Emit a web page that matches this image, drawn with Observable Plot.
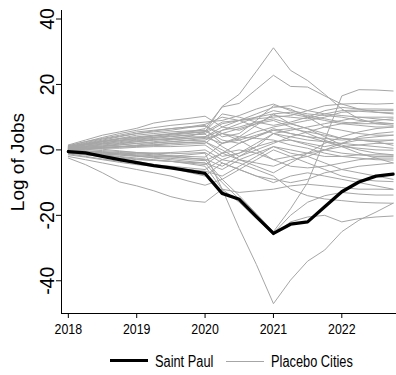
<!DOCTYPE html>
<html>
<head>
<meta charset="utf-8">
<script src="https://cdn.jsdelivr.net/npm/d3@7"></script>
<script src="https://cdn.jsdelivr.net/npm/@observablehq/plot@0.6"></script>
<style>
  body { margin: 0; background: #fff; }
  #chart { position: relative; width: 396px; height: 375px; overflow: hidden; background: #fff; }
  #chart svg [aria-label="x-axis tick label"] {
    font-family: "Liberation Sans", Arial, sans-serif;
    font-size: 15.5px;
  }
  .legend { position: absolute; left: 0; top: 340px; width: 396px; height: 35px;
    font-family: "Liberation Sans", Arial, sans-serif; font-size: 16px; color: #000; }
  .legend .sw { position: absolute; top: 21px; width: 38px; }
  .legend .lab { position: absolute; top: 12px; line-height: 20px; white-space: nowrap;
    transform: scaleX(0.8); transform-origin: left center; }
</style>
</head>
<body>
<div id="chart"></div>
<script>
// ---- data ----
const quarters = [2018, 2018.25, 2018.5, 2018.75, 2019, 2019.25, 2019.5, 2019.75,
                  2020, 2020.25, 2020.5, 2020.75, 2021, 2021.25, 2021.5, 2021.75,
                  2022, 2022.25, 2022.5, 2022.75];
const xTicks = [2018, 2019, 2020, 2021, 2022];
const yTicks = [-40, -20, 0, 20, 40];
const yLabel = "Log of Jobs";
const legendLabels = ["Saint Paul", "Placebo Cities"];

const saintPaul = [-0.5, -0.9, -2.0, -3.0, -3.9, -4.8, -5.5, -6.3, -7.2, -13.3, -15.1, -20.4,
                   -25.5, -22.7, -22.0, -17.4, -12.8, -9.8, -8.0, -7.4];

const placebo = [
  [0.5, 1.2, 1.8, 2.2, 2.8, 3.2, 3.5, 4.0, 5.5, 13.3, 17.0, 24.0, 31.2, 24.3, 21.2, 17.0, 12.5, 9.5, 8.0, 7.5],
  [1.0, 1.8, 2.5, 3.0, 3.6, 4.2, 4.8, 5.5, 6.5, 13.1, 14.2, 18.5, 22.8, 19.4, 19.2, 16.5, 14.0, 12.5, 11.5, 11.0],
  [0.2, 0.5, 0.2, -0.3, -0.8, -1.2, -1.8, -2.5, -3.0, -9.0, -14.0, -19.5, -25.0, -18.0, -10.0, 3.0, 16.5, 18.4, 18.3, 18.0],
  [0.0, -0.5, -1.0, -1.2, -1.5, -1.8, -2.0, -1.5, -1.0, -12.0, -24.0, -35.0, -47.0, -39.8, -34.0, -30.6, -25.0, -21.5, -19.0, -16.3],
  [1.5, 3.0, 4.5, 5.5, 6.6, 8.2, 9.0, 9.6, 10.3, 7.0, 6.0, 8.0, 10.5, 10.0, 9.5, 11.0, 12.0, 12.2, 12.0, 12.0],
  [1.2, 2.5, 3.8, 5.0, 6.0, 6.8, 7.5, 8.0, 8.5, 9.0, 10.5, 12.5, 14.0, 12.0, 11.0, 10.5, 10.0, 9.0, 8.5, 8.0],
  [0.8, 2.0, 3.0, 4.0, 5.0, 5.5, 6.0, 6.8, 7.5, 4.0, 5.0, 9.0, 13.5, 12.5, 10.0, 7.0, 6.0, 5.0, 4.5, 4.5],
  [1.0, 1.5, 2.5, 3.5, 4.5, 5.0, 5.5, 5.8, 6.0, 2.0, 4.0, 7.5, 11.0, 8.0, 6.5, 5.0, 3.5, 3.0, 2.5, 3.0],
  [0.5, 1.0, 1.8, 2.5, 3.0, 3.5, 4.0, 4.5, 5.0, 8.0, 9.0, 9.5, 10.0, 10.5, 12.0, 13.5, 14.0, 14.2, 14.0, 14.2],
  [0.3, 0.8, 1.2, 1.8, 2.5, 3.0, 3.5, 4.0, 4.0, 6.0, 7.0, 8.5, 9.5, 8.0, 6.5, 4.0, 1.5, 0.0, -1.0, -1.5],
  [0.6, 1.5, 2.0, 2.8, 3.5, 3.8, 4.2, 4.5, 4.8, 1.0, -2.0, 0.0, 2.0, 4.0, 5.5, 7.0, 8.0, 8.5, 9.0, 9.5],
  [-0.5, 0.0, 0.5, 1.0, 1.5, 2.0, 2.5, 3.0, 3.5, 5.0, 4.0, 3.5, 3.0, 1.5, 0.5, -1.0, -2.0, -2.5, -3.0, -3.1],
  [0.8, 1.8, 2.8, 3.5, 4.0, 4.5, 5.0, 5.5, 6.0, 3.0, 2.0, 4.0, 6.0, 5.0, 4.0, 2.5, 1.0, 0.5, 0.0, -0.1],
  [-0.2, 0.3, 0.8, 1.0, 1.2, 1.5, 2.0, 2.2, 2.5, 0.0, -3.0, -5.0, -7.0, -4.0, -1.0, 2.0, 4.0, 5.5, 6.5, 7.0],
  [0.0, 0.2, 0.5, 0.5, 0.8, 1.0, 1.0, 1.2, 1.5, -2.0, -1.0, 1.0, 2.5, 3.0, 2.0, 1.0, 2.0, 3.0, 2.5, 1.4],
  [-0.8, -1.0, -1.2, -1.5, -1.8, -2.0, -2.2, -2.5, -2.8, -5.0, -2.0, 1.0, 5.0, 6.0, 7.0, 8.0, 9.0, 10.0, 10.0, 10.0],
  [-1.0, -1.5, -2.0, -2.5, -3.0, -3.2, -3.5, -4.0, -4.5, -1.0, 2.0, 4.0, 6.5, 5.0, 4.0, 3.5, 3.0, 3.5, 4.0, 4.5],
  [-1.5, -2.2, -3.0, -3.8, -4.5, -5.0, -5.5, -6.0, -6.5, -8.0, -5.0, -2.0, 1.0, 0.0, -1.0, -2.0, -2.0, -1.5, -1.5, -1.6],
  [-2.5, -4.5, -7.0, -9.8, -11.0, -12.5, -14.3, -15.5, -16.0, -12.0, -13.0, -12.5, -12.0, -11.0, -10.5, -11.0, -11.5, -12.0, -12.0, -12.1],
  [-2.0, -3.0, -4.0, -5.0, -6.0, -7.0, -8.0, -9.5, -10.8, -9.0, -6.0, -3.0, 0.0, -2.0, -4.0, -6.0, -8.0, -9.0, -9.5, -9.7],
  [0.0, -0.3, -0.8, -1.2, -1.8, -2.5, -3.0, -3.5, -4.0, -10.0, -15.0, -20.0, -25.5, -20.0, -16.0, -14.0, -13.0, -13.5, -13.8, -13.8],
  [-0.5, -1.0, -1.5, -2.0, -2.5, -3.0, -3.5, -4.2, -5.0, -12.0, -16.0, -21.0, -26.0, -22.0, -20.5, -20.0, -22.0, -21.0, -20.5, -20.2],
  [0.5, 0.8, 1.2, 1.5, 2.0, 2.2, 2.5, 2.8, 3.0, 5.0, 6.5, 8.0, 9.0, 7.0, 5.0, 3.0, 1.0, -1.0, -2.5, -4.0],
  [0.3, 0.5, 0.6, 0.8, 1.0, 1.3, 1.5, 1.8, 2.0, 6.0, 8.0, 10.0, 12.0, 11.0, 10.0, 9.0, 8.0, 7.5, 7.0, 7.0],
  [-0.3, -0.5, -0.7, -1.0, -1.2, -1.5, -1.8, -2.0, -2.2, 2.0, 3.0, 4.5, 6.0, 6.5, 5.5, 4.5, 3.5, 3.0, 3.0, 3.0],
  [1.3, 2.5, 3.5, 4.5, 5.5, 6.0, 6.5, 7.0, 7.2, 5.0, 3.0, 0.0, -3.0, -2.0, -1.0, 0.0, 1.0, 1.5, 2.0, 2.0],
  [0.2, 0.0, -0.2, -0.5, -0.8, -1.0, -1.2, -1.0, -0.8, -4.0, -6.0, -8.0, -9.0, -10.0, -9.0, -7.0, -6.0, -5.0, -4.5, -4.0],
  [-1.2, -2.0, -2.8, -3.5, -4.0, -4.5, -5.0, -5.5, -6.0, -3.0, -4.0, -6.0, -8.0, -12.0, -14.0, -15.0, -15.5, -16.0, -16.2, -16.3],
  [0.7, 1.5, 2.2, 2.8, 3.2, 3.8, 4.5, 5.0, 5.5, 8.5, 9.0, 10.0, 11.0, 11.5, 10.5, 9.5, 8.5, 8.0, 8.0, 8.0],
  [-0.8, -1.2, -1.8, -2.2, -2.8, -3.2, -3.5, -3.8, -4.0, -6.0, -3.0, -1.0, 1.0, -1.0, -2.0, -4.0, -6.0, -7.0, -8.0, -9.0],
  [0.4, 1.0, 1.5, 2.0, 2.5, 3.0, 3.2, 3.5, 3.8, 2.0, 3.5, 5.5, 7.0, 8.0, 9.0, 10.0, 11.5, 11.8, 11.5, 11.3],
  [1.0, 2.2, 3.3, 4.2, 5.0, 5.8, 6.5, 7.0, 7.8, 10.0, 9.0, 7.0, 5.0, 4.0, 3.0, 2.5, 2.0, 1.5, 1.0, 0.5],
  [-0.2, -0.5, -0.5, -0.8, -1.0, -1.0, -0.8, -0.5, 0.0, -3.0, -1.0, 2.0, 5.0, 3.0, 1.5, 0.0, -1.0, -1.5, -2.0, -2.0],
  [0.0, 0.5, 1.0, 1.5, 2.0, 2.5, 3.0, 3.5, 4.0, 7.0, 9.0, 11.0, 13.0, 13.5, 12.0, 11.0, 10.5, 10.0, 9.5, 9.0],
  [-1.0, -1.5, -2.0, -2.8, -3.5, -4.5, -5.5, -6.8, -8.0, -4.0, -6.0, -8.0, -10.0, -8.0, -7.0, -8.0, -9.0, -10.0, -11.0, -12.0],
  [0.9, 1.8, 2.6, 3.3, 3.8, 4.3, 4.8, 5.2, 5.6, 11.0, 10.0, 8.5, 7.5, 8.5, 10.0, 12.0, 13.0, 12.5, 12.5, 12.4],
  [-0.6, -1.0, -1.3, -1.6, -2.0, -2.3, -2.6, -3.0, -3.3, -1.0, 0.0, -1.0, -3.0, -5.0, -5.5, -5.0, -4.0, -3.0, -2.5, -2.5],
  [0.1, 0.5, 0.8, 1.0, 1.3, 1.6, 2.0, 2.3, 2.5, -1.0, -3.0, -4.0, -5.0, -3.0, -2.0, 0.0, 2.0, 4.0, 5.0, 5.5]
];

// ---- build tables for the library ----
const placeboRows = [];
placebo.forEach((vals, i) => vals.forEach((v, j) => placeboRows.push({city: "P" + i, t: quarters[j], v})));
const saintPaulRows = saintPaul.map((v, j) => ({t: quarters[j], v}));

const gray = "#a6a6a6";
const plot = Plot.plot({
  width: 396,
  height: 340,
  marginTop: 10,
  marginBottom: 27,
  marginLeft: 61,
  marginRight: 0,
  style: {background: "white", color: "black", fontFamily: "'Liberation Sans', Arial, sans-serif", fontSize: "15px"},
  x: {domain: [2017.9, 2022.8]},
  y: {domain: [-50, 42.6]},
  marks: [
    Plot.line(placeboRows, {x: "t", y: "v", z: "city", stroke: gray, strokeWidth: 1}),
    Plot.line(saintPaulRows, {x: "t", y: "v", stroke: "black", strokeWidth: 3.3}),
    Plot.frame({anchor: "left", stroke: "black"}),
    Plot.frame({anchor: "bottom", stroke: "black"}),
    Plot.axisX({ticks: xTicks, tickSize: 5, tickPadding: 4, tickFormat: d => String(d), label: null, stroke: "black"}),
    Plot.axisY({ticks: yTicks, tickSize: 5, tickFormat: () => "", label: null, stroke: "black"}),
    Plot.text(yTicks, {y: d => d, text: d => String(d), frameAnchor: "left", dx: -8, rotate: -90,
      textAnchor: "middle", lineAnchor: "bottom", fontSize: 19.5, fill: "black"}),
    Plot.text([yLabel], {text: d => d, frameAnchor: "left", dx: -38, rotate: -90,
      textAnchor: "middle", lineAnchor: "bottom", fontSize: 19, fill: "black"})
  ]
});

const chart = document.getElementById("chart");
chart.appendChild(plot);

// narrow the x tick labels (condensed look of the original)
plot.querySelectorAll('[aria-label="x-axis tick label"] text').forEach(t => {
  const tr = t.getAttribute("transform");
  if (tr) {
    t.setAttribute("transform", tr + " scale(0.8,1)");
  } else {
    const x = +t.getAttribute("x") || 0;
    t.setAttribute("transform", `translate(${x},0) scale(0.8,1) translate(${-x},0)`);
  }
});

// legend
const legend = document.createElement("div");
legend.className = "legend";
const legendStyle = [
  {stroke: "#000", w: 3.5, swLeft: 110, labLeft: 155},
  {stroke: gray, w: 1, swLeft: 226, labLeft: 271}
];
legendLabels.forEach((lab, i) => {
  const s = legendStyle[i];
  const sw = document.createElement("span");
  sw.className = "sw";
  sw.style.left = s.swLeft + "px";
  sw.style.borderTop = `${s.w}px solid ${s.stroke}`;
  sw.style.marginTop = (-s.w / 2) + "px";
  const tx = document.createElement("span");
  tx.className = "lab";
  tx.style.left = s.labLeft + "px";
  tx.textContent = lab;
  legend.appendChild(sw);
  legend.appendChild(tx);
});
chart.appendChild(legend);
</script>
</body>
</html>
